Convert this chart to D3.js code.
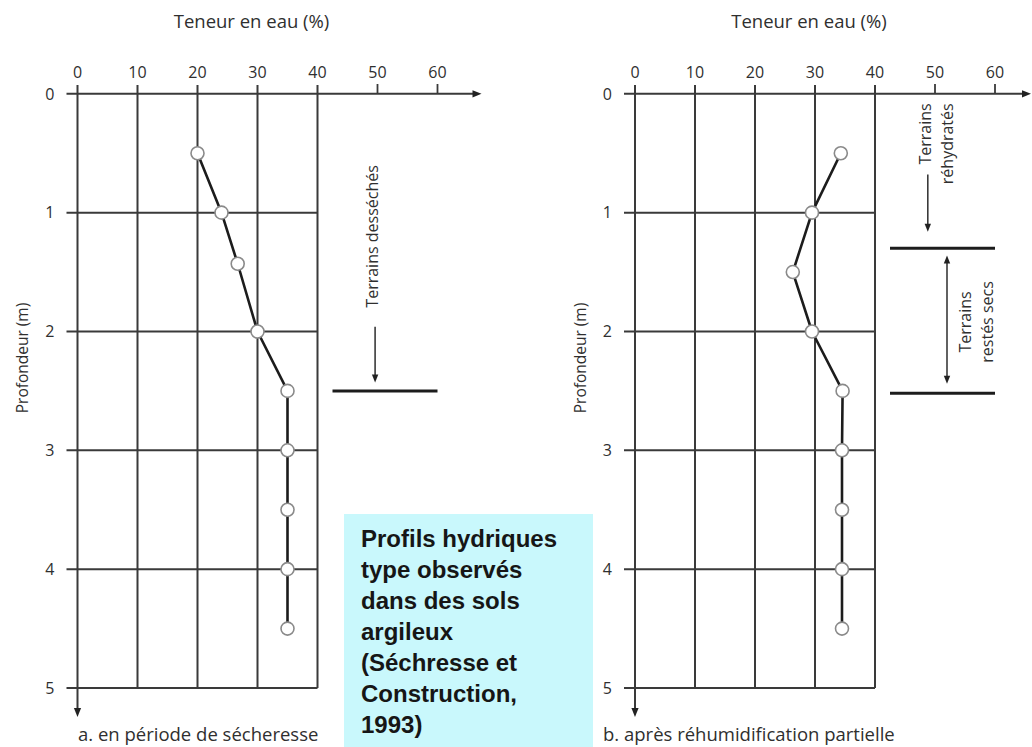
<!DOCTYPE html>
<html lang="fr">
<head>
<meta charset="utf-8">
<script src="https://cdn.jsdelivr.net/npm/d3@7"></script>
<style>
  html, body { margin: 0; padding: 0; background: #fff; }
  svg { display: block; }
  .lbl { font-family: "Open Sans", sans-serif; font-weight: 500; fill: #2f2f2f; }
  .box-text { font-family: "Liberation Sans", Arial, sans-serif; font-weight: bold; fill: #161616; }
</style>
</head>
<body>
<svg id="chart" width="1032" height="747"></svg>
<script>
// Water content axis (%) and depth axis (m)
const teneurTicks = [0, 10, 20, 30, 40, 50, 60];
const gridTeneur = [0, 10, 20, 30, 40];
const depthTicks = [0, 1, 2, 3, 4, 5];

// Profile a: during drought
const depthA = [0.5, 1.0, 1.43, 2.0, 2.5, 3.0, 3.5, 4.0, 4.5];
const teneurA = [20, 24, 26.7, 30, 35, 35, 35, 35, 35];

// Profile b: after partial rewetting
const depthB = [0.5, 1.0, 1.5, 2.0, 2.5, 3.0, 3.5, 4.0, 4.5];
const teneurB = [34.3, 29.5, 26.3, 29.5, 34.6, 34.5, 34.5, 34.5, 34.5];

// Texts
const axisTitle = "Teneur en eau (%)";
const depthTitle = "Profondeur (m)";
const captionA = "a. en période de sécheresse";
const captionB = "b. après réhumidification partielle";
const noteA = "Terrains desséchés";
const noteB1 = ["Terrains", "réhydratés"];
const noteB2 = ["Terrains", "restés secs"];
const boxLines = ["Profils hydriques", "type observés", "dans des sols", "argileux", "(Séchresse et", "Construction,", "1993)"];

// Layer boundaries marked beside the profiles (depth, m)
const limitA = [2.5];
const limitsB = [1.3, 2.52];

const svg = d3.select("#chart");
const ink = "#3a3a3a";

const y = d3.scaleLinear().domain([0, 5]).range([93.8, 688]);

function arrowHead(g, tipX, tipY, dir, len = 9, half = 3.6) {
  let pts;
  if (dir === "right") pts = [[tipX, tipY], [tipX - len, tipY - half], [tipX - len, tipY + half]];
  else if (dir === "down") pts = [[tipX, tipY], [tipX - half, tipY - len], [tipX + half, tipY - len]];
  else pts = [[tipX, tipY], [tipX - half, tipY + len], [tipX + half, tipY + len]];
  g.append("path").attr("d", d3.line()(pts) + "Z").attr("fill", "#222");
}

function drawPanel(cfg) {
  const x = d3.scaleLinear().domain([0, 60]).range([cfg.x0, cfg.x0 + 360]);
  const g = svg.append("g");

  // title above the water-content axis
  g.append("text").attr("class", "lbl")
    .attr("x", cfg.x0 + 174).attr("y", 28)
    .attr("text-anchor", "middle").style("font-size", "18.5px")
    .text(axisTitle);

  // top tick labels
  g.selectAll(".tt").data(teneurTicks).join("text").attr("class", "lbl")
    .attr("x", d => x(d)).attr("y", 77.5)
    .attr("text-anchor", "middle").style("font-size", "16px")
    .text(d => d);

  // vertical grid (0..40)
  g.selectAll(".vg").data(gridTeneur).join("line")
    .attr("x1", d => x(d)).attr("x2", d => x(d))
    .attr("y1", 85).attr("y2", d => d === 0 ? 709 : y(5))
    .attr("stroke", ink).attr("stroke-width", 2);

  // small ticks beyond the grid (50, 60)
  g.selectAll(".st").data(teneurTicks.filter(t => t > 40)).join("line")
    .attr("x1", d => x(d)).attr("x2", d => x(d))
    .attr("y1", 84).attr("y2", y(0))
    .attr("stroke", ink).attr("stroke-width", 1.8);

  // horizontal grid (depth 1..5) and top axis (depth 0)
  g.selectAll(".hg").data(depthTicks).join("line")
    .attr("x1", x(0) - 11)
    .attr("x2", d => d === 0 ? cfg.arrowEnd - 8 : x(40))
    .attr("y1", d => y(d)).attr("y2", d => y(d))
    .attr("stroke", ink).attr("stroke-width", 2);

  arrowHead(g, cfg.arrowEnd, y(0), "right");
  arrowHead(g, x(0), 717, "down");

  // depth tick labels
  g.selectAll(".dt").data(depthTicks).join("text").attr("class", "lbl")
    .attr("x", x(0) - 23).attr("y", d => y(d)).attr("dy", "0.36em")
    .attr("text-anchor", "end").style("font-size", "16px")
    .text(d => d);

  // depth title
  g.append("text").attr("class", "lbl")
    .attr("transform", `translate(${x(0) - 55},358) rotate(-90)`)
    .attr("dy", "0.36em").attr("text-anchor", "middle").style("font-size", "15.5px")
    .text(depthTitle);

  // caption
  g.append("text").attr("class", "lbl")
    .attr("x", cfg.captionX).attr("y", 741)
    .style("font-size", "18.5px")
    .text(cfg.caption);

  // profile line and points
  const pts = cfg.depth.map((d, i) => [x(cfg.teneur[i]), y(d)]);
  g.append("path").attr("d", d3.line()(pts))
    .attr("fill", "none").attr("stroke", "#1c1c1c").attr("stroke-width", 2.6)
    .attr("stroke-linejoin", "round");
  g.selectAll(".pt").data(pts).join("circle")
    .attr("cx", d => d[0]).attr("cy", d => d[1]).attr("r", 6.5)
    .attr("fill", "#fff").attr("stroke", "#8a8a8a").attr("stroke-width", 1.6);

  // layer limits
  g.selectAll(".lim").data(cfg.limits).join("line")
    .attr("x1", x(42.5)).attr("x2", x(60))
    .attr("y1", d => y(d)).attr("y2", d => y(d))
    .attr("stroke", "#1c1c1c").attr("stroke-width", 3);

  return { g, x };
}

// Panel a
const pa = drawPanel({
  x0: 77.5, arrowEnd: 481.5, captionX: 78, caption: captionA,
  depth: depthA, teneur: teneurA, limits: limitA
});
pa.g.append("text").attr("class", "lbl")
  .attr("transform", `translate(${pa.x(49.2)},${y(1.2)}) rotate(-90)`)
  .attr("dy", "0.36em").attr("text-anchor", "middle").style("font-size", "16px")
  .text(noteA);
pa.g.append("line")
  .attr("x1", pa.x(49.6)).attr("x2", pa.x(49.6))
  .attr("y1", y(1.96)).attr("y2", y(2.38))
  .attr("stroke", ink).attr("stroke-width", 1.6);
arrowHead(pa.g, pa.x(49.6), y(2.43), "down", 8, 3.2);

// Panel b
const pb = drawPanel({
  x0: 635, arrowEnd: 1031, captionX: 603, caption: captionB,
  depth: depthB, teneur: teneurB, limits: limitsB
});
noteB1.forEach((t, i) => {
  pb.g.append("text").attr("class", "lbl")
    .attr("transform", `translate(${pb.x(48.3 + i * 3.7)},${y(0.08)}) rotate(-90)`)
    .attr("dy", "0.36em").attr("text-anchor", "end").style("font-size", "16px")
    .text(t);
});
pb.g.append("line")
  .attr("x1", pb.x(48.8)).attr("x2", pb.x(48.8))
  .attr("y1", y(0.68)).attr("y2", y(1.12))
  .attr("stroke", ink).attr("stroke-width", 1.6);
arrowHead(pb.g, pb.x(48.8), y(1.16), "down", 8, 3.2);

noteB2.forEach((t, i) => {
  pb.g.append("text").attr("class", "lbl")
    .attr("transform", `translate(${pb.x(55 + i * 3.7)},${y(1.92)}) rotate(-90)`)
    .attr("dy", "0.36em").attr("text-anchor", "middle").style("font-size", "16px")
    .text(t);
});
pb.g.append("line")
  .attr("x1", pb.x(52)).attr("x2", pb.x(52))
  .attr("y1", y(1.42)).attr("y2", y(2.38))
  .attr("stroke", ink).attr("stroke-width", 1.6);
arrowHead(pb.g, pb.x(52), y(1.36), "up", 8, 3.2);
arrowHead(pb.g, pb.x(52), y(2.44), "down", 8, 3.2);

// Source box
const box = svg.append("g");
box.append("rect").attr("x", 344).attr("y", 514).attr("width", 249).attr("height", 233)
  .attr("fill", "#c9f8fc");
box.selectAll("text").data(boxLines).join("text").attr("class", "box-text")
  .attr("x", 361).attr("y", (d, i) => 547 + i * 31)
  .style("font-size", "24px")
  .text(d => d);
</script>
</body>
</html>
